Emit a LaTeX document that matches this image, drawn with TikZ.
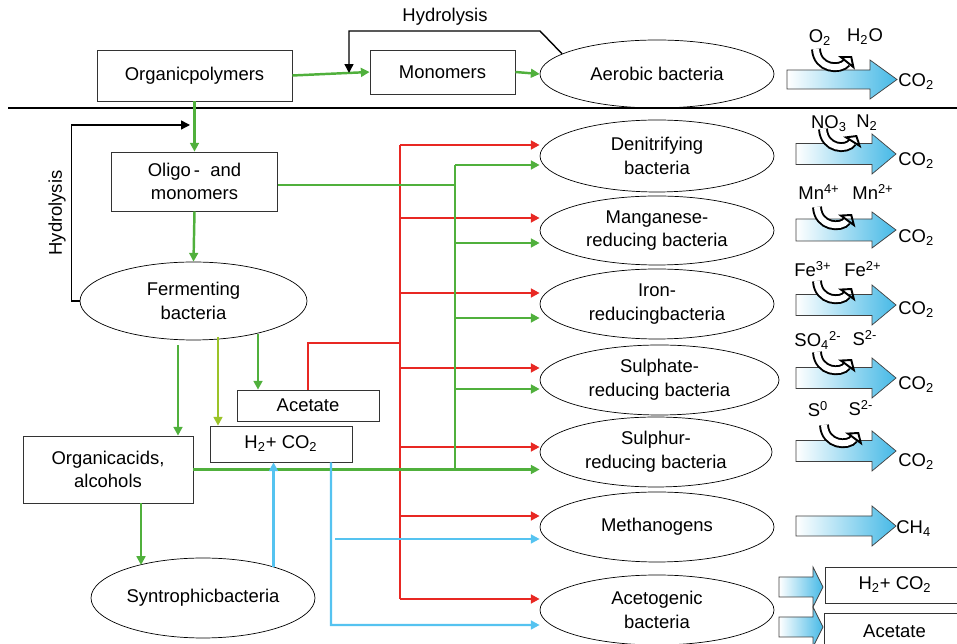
\documentclass[tikz,border=0pt]{standalone}
\usepackage{fontspec}
\setmainfont{Liberation Sans}
\usetikzlibrary{shapes.geometric,arrows.meta}
\definecolor{arrgreen}{RGB}{80,176,60}
\definecolor{arrred}{RGB}{232,40,35}
\definecolor{arrblue}{RGB}{85,195,240}
\definecolor{arrlime}{RGB}{155,195,40}
\definecolor{fillblue}{RGB}{70,185,230}
\tikzset{
  box/.style={draw=black!80, rectangle, inner sep=0pt, align=center},
  bact/.style={draw, ellipse, inner sep=0pt, align=center, minimum width=4.68cm, minimum height=1.4cm},
  tip/.style={-{Triangle[length=5pt,width=5pt]}},
  gline/.style={arrgreen, line width=1.1pt},
  garr/.style={arrgreen, line width=1.4pt, tip},
  larr/.style={arrlime, line width=1.2pt, tip},
  rline/.style={arrred, line width=1.1pt},
  rarr/.style={arrred, line width=1.3pt, tip},
  barr/.style={arrblue, line width=1.2pt, tip},
  karr/.style={black, line width=0.8pt, tip},
  arrowshade/.style={draw=black!75, line width=0.4pt, left color=white, right color=fillblue},
  pics/procarrow/.style n args={4}{code={
    \draw[arrowshade] (0,-#3) -- (#1,-#3) -- (#1,-#4) -- (#2,0) -- (#1,#4) -- (#1,#3) -- (0,#3) -- cycle;
  }},
  uturn/.style={line width=1.1pt, double=white, double distance=3.4pt, -{Triangle[open,length=5pt,width=12pt,line width=1.1pt]}},
  chem/.style={inner sep=0pt, anchor=base}
}
\begin{document}
\begin{tikzpicture}[x=0.02cm, y=-0.02cm, font=\fontsize{10.5}{13.5}\selectfont]
\useasboundingbox (0,0) rectangle (957,644);
\clip (0,0) rectangle (957,644);

% aerobic part
\node[box, minimum width=3.9cm, minimum height=1.02cm] (poly) at (194.5,75.5) {Organicpolymers};
\node[box, minimum width=2.9cm, minimum height=0.88cm] (mono) at (442.5,72) {Monomers};
\node[bact, minimum height=1.36cm] (aerobic) at (657,74) {Aerobic bacteria};
\draw[garr] (poly.east) -- (mono.west);
\draw[garr] (mono.east) -- (aerobic.west);
\coordinate (hyd1) at (540,31);
\coordinate (hyd2) at (349,73);
\draw[karr] (aerobic.168) -- (hyd1) -| (hyd2);
\node (hydtop) at (445,17) {Hydrolysis};
\draw[line width=1.1pt] (8,108) -- (957,108);

% anaerobic part, left
\node[box, minimum width=3.32cm, minimum height=1.18cm] (oligo) at (194.5,181.5) {Oligo\,-\ \ and\\monomers};
\node[bact, minimum width=4.54cm, minimum height=1.56cm] (ferm) at (193.5,301) {Fermenting\\bacteria};
\draw[garr] (poly.south) -- (oligo.north);
\draw[garr] (oligo.south) -- (ferm.north);
\coordinate (hyd3) at (190,125);
\draw[karr] (ferm.west) -- ++(-8,0) |- (hyd3);
\node[rotate=90] (hydleft) at (57,213) {Hydrolysis};

\node[box, minimum width=2.84cm, minimum height=0.62cm] (acet) at (308,405.5) {Acetate};
\node[box, minimum width=2.84cm, minimum height=0.72cm] (hco) at (281,444) {H\textsubscript{2}+ CO\textsubscript{2}};
\node[box, minimum width=3.4cm, minimum height=1.34cm] (acids) at (108,469.5) {Organicacids,\\alcohols};
\node[bact, minimum width=4.48cm, minimum height=1.6cm] (syn) at (203,598) {Syntrophicbacteria};

\coordinate (f1) at (178,345);
\coordinate (f2) at (218,337);
\coordinate (f3) at (258,334);
\coordinate (f4) at (141,565);
\draw[garr] (f1) -- (f1 |- acids.north);
\draw[larr] (f2) -- (f2 |- hco.north);
\draw[garr] (f3) -- (f3 |- acet.north);
\draw[garr] (acids.south -| f4) -- (f4);

% anaerobic part, bacteria
\node[bact, minimum height=1.44cm] (den) at (657,156) {Denitrifying\\bacteria};
\node[bact, minimum height=1.38cm] (mang) at (657,230.5) {Manganese-\\reducing bacteria};
\node[bact] (iron) at (657,304) {Iron-\\reducingbacteria};
\node[bact, minimum width=4.78cm] (sulf) at (659.5,380) {Sulphate-\\reducing bacteria};
\node[bact, minimum width=4.64cm] (sulph) at (656,452) {Sulphur-\\reducing bacteria};
\node[bact] (meth) at (657,527) {Methanogens};
\node[bact] (aceto) at (657,610) {Acetogenic\\bacteria};

% red: acetate
\coordinate (r1) at (400,145);
\coordinate (r2) at (400,218);
\coordinate (r3) at (400,293);
\coordinate (r4) at (400,368);
\coordinate (r5) at (400,447);
\coordinate (r6) at (400,516);
\coordinate (r7) at (400,599);
\coordinate (ra) at (400,343);
\draw[rline] (r1) -- (r7);
\draw[rline] (acet.north) |- (ra);
\draw[rarr] (r1) -- (r1 -| den.west);
\draw[rarr] (r2) -- (r2 -| mang.west);
\draw[rarr] (r3) -- (r3 -| iron.west);
\draw[rarr] (r4) -- (r4 -| sulf.west);
\draw[rarr] (r5) -- (r5 -| sulph.west);
\draw[rarr] (r6) -- (r6 -| meth.west);
\draw[rarr] (r7) -- (r7 -| aceto.west);

% green: organic acids, monomers
\coordinate (g0) at (455,185);
\coordinate (g1) at (455,165);
\coordinate (g2) at (455,243);
\coordinate (g3) at (455,318);
\coordinate (g4) at (455,389);
\coordinate (g5) at (455,469.5);
\draw[gline] (g1) -- (g5);
\draw[gline] (oligo.east |- g0) -- (g0);
\draw[garr] (acids.east) -- (acids.east -| sulph.west);
\draw[garr] (g1) -- (g1 -| den.west);
\draw[garr] (g2) -- (g2 -| mang.west);
\draw[garr] (g3) -- (g3 -| iron.west);
\draw[garr] (g4) -- (g4 -| sulf.west);

% blue: hydrogen
\coordinate (b1) at (331,625);
\coordinate (b2) at (335,539);
\draw[barr] (syn.24) -- (syn.24 |- hco.south);
\draw[barr] ([xshift=1cm]hco.south) -- (b1) -- (b1 -| aceto.west);
\draw[barr] (b2) -- (b2 -| meth.west);

% products
\pic at (787,79.5) {procarrow={83}{110}{9.5}{19.5}};
\pic at (796,154) {procarrow={76}{100}{10.5}{20}};
\pic at (796,230) {procarrow={76}{100}{11}{18}};
\pic at (796,305) {procarrow={76}{100}{10.5}{20}};
\pic at (796,378) {procarrow={76}{100}{10.5}{20}};
\pic at (796,451) {procarrow={76}{100}{10.5}{20}};
\pic at (796,526) {procarrow={76}{100}{10}{20}};
\pic at (779,587) {procarrow={34}{44}{10}{20}};
\pic at (779,627) {procarrow={34}{44}{10}{20}};

\node[chem, anchor=base west] (co0) at (898,87) {CO\textsubscript{2}};
\node[chem, anchor=base west] (co1) at (898,166) {CO\textsubscript{2}};
\node[chem, anchor=base west] (co2) at (898,243) {CO\textsubscript{2}};
\node[chem, anchor=base west] (co3) at (898,315) {CO\textsubscript{2}};
\node[chem, anchor=base west] (co4) at (898,390) {CO\textsubscript{2}};
\node[chem, anchor=base west] (co5) at (898,467) {CO\textsubscript{2}};
\node[chem, anchor=base west] (ch4) at (896,534) {CH\textsubscript{4}};

\node[chem] (o2) at (820,43) {O\textsubscript{2}};
\node[chem] (h2o) at (865,42) {H\textsubscript{2}O};
\node[chem] (no3) at (829,129) {NO\textsubscript{3}};
\node[chem] (n2) at (867,128) {N\textsubscript{2}};
\node[chem] (mn4) at (819,200) {Mn\textsuperscript{4+}};
\node[chem] (mn2) at (873,200) {Mn\textsuperscript{2+}};
\node[chem] (fe3) at (813,277) {Fe\textsuperscript{3+}};
\node[chem] (fe2) at (863,277) {Fe\textsuperscript{2+}};
\node[chem] (so4) at (818,347) {SO\textsubscript{4}\textsuperscript{2-}};
\node[chem] (s2a) at (865,346) {S\textsuperscript{2-}};
\node[chem] (s0) at (818,417) {S\textsuperscript{0}};
\node[chem] (s2b) at (861,416) {S\textsuperscript{2-}};

\draw[uturn] (816,49) .. controls (817,69) and (840,71) .. (852,56);
\draw[uturn] (823,129) .. controls (824,149) and (847,151) .. (857,135);
\draw[uturn] (817,207) .. controls (818,227) and (841,229) .. (852,214);
\draw[uturn] (817,281) .. controls (818,301) and (841,303) .. (852,288);
\draw[uturn] (817,352) .. controls (818,372) and (841,374) .. (852,359);
\draw[uturn] (824,425) .. controls (825,445) and (848,447) .. (859,432);

\node[box, minimum width=2.8cm, minimum height=0.72cm] (prod1) at (895,585) {H\textsubscript{2}+ CO\textsubscript{2}};
\node[box, minimum width=2.8cm, minimum height=0.74cm] (prod2) at (894.5,631.5) {Acetate};
\end{tikzpicture}
\end{document}
